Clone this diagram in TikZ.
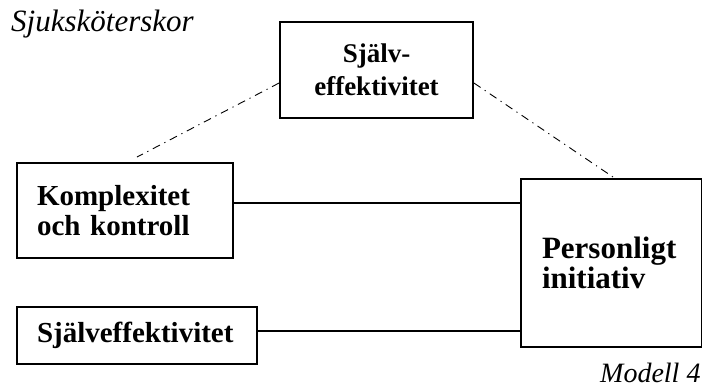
\documentclass[tikz,border=0pt]{standalone}
\usepackage{fontspec}
\setmainfont{Liberation Serif}
\begin{document}
\begin{tikzpicture}[x=1pt,y=-1pt,
  box/.style={draw,line width=1.8pt,inner sep=0pt,font=\bfseries},
  link/.style={line width=1.3pt},
  dashdot/.style={line width=0.9pt,dash pattern=on 8pt off 5pt on 1.2pt off 5pt},
  label/.style={anchor=base west,inner sep=0pt}]
\useasboundingbox (0,0) rectangle (702,389);

% boxes
\node[box,minimum width=193pt,minimum height=96pt,align=center,
  font=\bfseries\fontsize{27}{33}\selectfont] (se) at (376.5,70) {Själv-\\effektivitet};
\node[box,minimum width=216pt,minimum height=95pt,inner xsep=20pt,text width=176pt,align=left,
  font=\bfseries\fontsize{29}{30}\selectfont] (kk) at (125,210.5) {Komplexitet\\och kontroll};
\node[box,minimum width=240pt,minimum height=57pt,inner xsep=20pt,text width=200pt,align=left,
  font=\bfseries\fontsize{29}{30}\selectfont] (sv) at (137,335.5) {Själveffektivitet};
\node[box,minimum width=181pt,minimum height=168pt,inner xsep=21pt,text width=139pt,align=left,
  font=\bfseries\fontsize{31}{30}\selectfont] (pi) at (611.5,263) {Personligt\\initiativ};

% labels
\node[label,font=\itshape\fontsize{31}{33}\selectfont] (title) at (11,31) {Sjuksköterskor};
\node[label,font=\itshape\fontsize{28}{30}\selectfont] (model) at (600,382) {Modell 4};

% solid connectors
\coordinate (k1) at ([yshift=7.5pt]kk.east);
\draw[link] (k1) -- (k1 -| pi.west);
\coordinate (s1) at ([yshift=4.5pt]sv.east);
\draw[link] (s1) -- (s1 -| pi.west);

% dash-dot links
\coordinate (dl) at (137,157);
\coordinate (dr) at (613,177);
\draw[dashdot] ([yshift=-13pt]se.west) -- (dl);
\draw[dashdot] ([yshift=-13pt]se.east) -- (dr);
\end{tikzpicture}
\end{document}
